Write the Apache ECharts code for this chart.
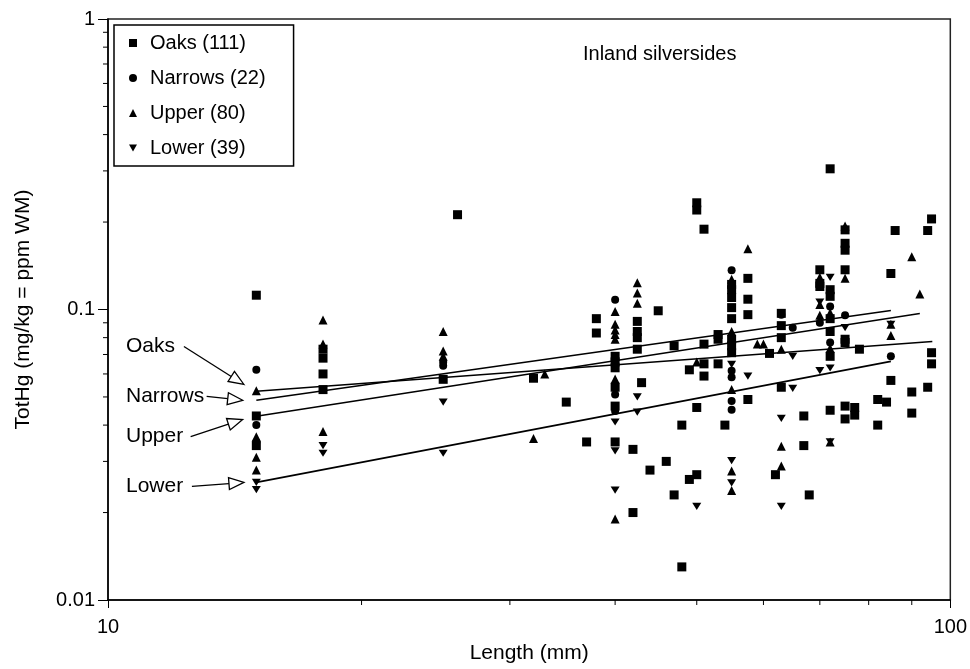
<!DOCTYPE html>
<html>
<head>
<meta charset="utf-8">
<script src="https://cdn.jsdelivr.net/npm/echarts@6/dist/echarts.min.js"></script>
<style>
  html, body { margin: 0; padding: 0; background: #fff; }
  #main { width: 970px; height: 669px; }
</style>
</head>
<body>
<div id="main"></div>
<script>
// length (mm), TotHg (mg/kg)
var oaksData = [
	[15,0.112],[15,0.043],[15,0.034],
	[18,0.073],[18,0.068],[18,0.060],[18,0.053],
	[25,0.0575],[26,0.212],[32,0.058],[35,0.048],[37,0.035],[38,0.093],[38,0.083],
	[40,0.069],[40,0.066],[40,0.063],[40,0.054],[40,0.0465],[40,0.035],
	[42,0.033],[42,0.020],
	[42.5,0.091],[42.5,0.084],[42.5,0.080],[42.5,0.073],
	[43,0.056],[44,0.028],[45,0.099],[46,0.030],[47,0.075],[47,0.023],
	[48,0.040],[48,0.013],[49,0.062],[49,0.026],
	[50,0.233],[50,0.220],[50,0.046],[50,0.027],
	[51,0.189],[51,0.076],[51,0.065],[51,0.059],
	[53,0.082],[53,0.079],[53,0.065],[54,0.040],
	[55,0.122],[55,0.117],[55,0.110],[55,0.1015],[55,0.093],[55,0.079],[55,0.075],[55,0.071],
	[57.5,0.128],[57.5,0.1085],[57.5,0.096],[57.5,0.049],
	[61,0.0706],[62,0.027],
	[63,0.097],[63,0.088],[63,0.080],[63,0.054],
	[67,0.043],[67,0.034],[68,0.023],
	[70,0.137],[70,0.123],[70,0.12],
	[72,0.305],[72,0.117],[72,0.111],[72,0.093],[72,0.084],[72,0.069],[72,0.045],
	[75,0.188],[75,0.169],[75,0.16],[75,0.137],[75,0.079],[75,0.077],[75,0.0465],[75,0.042],
	[77,0.046],[77,0.0433],[78,0.073],
	[82,0.049],[82,0.040],[84,0.048],
	[85,0.133],[85,0.057],[86,0.187],
	[90,0.052],[90,0.044],
	[94,0.187],[94,0.054],
	[95,0.205],[95,0.071],[95,0.065]
];
var narrowsData = [
	[15,0.062],[15,0.040],[15,0.035],[25,0.066],[25,0.064],
	[40,0.108],[40,0.051],[40,0.0447],
	[55,0.1365],[55,0.0616],[55,0.0584],[55,0.0484],[55,0.0452],
	[63,0.096],[65,0.0865],[70,0.12],[70,0.09],[72,0.1025],[72,0.077],[75,0.0955],[85,0.069]
];
var upperData = [
	[15,0.0525],[15,0.0365],[15,0.031],[15,0.028],
	[18,0.092],[18,0.076],[18,0.038],
	[25,0.084],[25,0.072],[25,0.069],
	[32,0.036],[33,0.060],
	[40,0.0985],[40,0.089],[40,0.085],[40,0.082],[40,0.079],[40,0.0576],[40,0.019],
	[42.5,0.1235],[42.5,0.114],[42.5,0.105],
	[50,0.066],
	[55,0.127],[55,0.084],[55,0.053],[55,0.0278],[55,0.0238],
	[57.5,0.162],[59,0.076],[60,0.076],
	[63,0.073],[63,0.0338],[63,0.0289],
	[70,0.129],[70,0.0956],[70,0.104],
	[72,0.0975],[72,0.0735],[72,0.035],
	[75,0.194],[75,0.128],
	[85,0.0813],[85,0.0889],
	[90,0.152],[92,0.113]
];
var lowerData = [
	[15,0.0254],[15,0.024],[18,0.034],[18,0.032],[25,0.048],[25,0.032],
	[40,0.041],[40,0.0326],[40,0.0239],
	[42.5,0.050],[42.5,0.0443],
	[50,0.021],
	[55,0.0647],[55,0.0302],[55,0.0253],
	[57.5,0.059],
	[63,0.0422],[63,0.021],
	[65,0.069],[65,0.0535],
	[70,0.0616],[70,0.106],
	[72,0.129],[72,0.0629],[72,0.035],
	[75,0.0866],[85,0.0889]
];

// regression lines (end points)
var oaksFit = [[15,0.0523],[95.2,0.0776]];
var narrowsFit = [[15,0.0487],[85,0.0992]];
var upperFit = [[15,0.0429],[92,0.0969]];
var lowerFit = [[15,0.0254],[85,0.0663]];

var seriesNames = ['Oaks (111)','Narrows (22)','Upper (80)','Lower (39)'];
var fitLabels = ['Oaks','Narrows','Upper','Lower'];
// where each label arrow points (length, TotHg)
var arrowTips = [[14.5,0.0552],[14.45,0.0487],[14.45,0.0418],[14.5,0.0254]];

var yMinor = [0.02,0.03,0.04,0.05,0.06,0.07,0.08,0.09,0.2,0.3,0.4,0.5,0.6,0.7,0.8,0.9];
var xMinor = [20,30,40,50,60,70,80,90];

var FONT = '"Liberation Sans", Arial, Helvetica, sans-serif';
var DOWN_TRI = 'path://M0,0L10,0L5,9Z';

function scatter(name, data, symbol, size) {
	return {
		name: name,
		type: 'scatter',
		data: data,
		symbol: symbol,
		symbolSize: size,
		symbolKeepAspect: true,
		itemStyle: { color: '#000', opacity: 1 },
		z: 3
	};
}

function fitLine(name, data) {
	return {
		name: name,
		type: 'line',
		data: data,
		showSymbol: false,
		symbol: 'none',
		lineStyle: { color: '#000', width: 1.6 },
		silent: true,
		z: 4
	};
}

var myChart = echarts.init(document.getElementById('main'));

var option = {
	animation: false,
	backgroundColor: '#fff',
	textStyle: { fontFamily: FONT, color: '#000' },
	title: {
		text: 'Inland silversides',
		left: 583,
		top: 44,
		padding: 0,
		textStyle: { fontSize: 20, fontWeight: 'normal', color: '#000', fontFamily: FONT }
	},
	legend: {
		orient: 'vertical',
		left: 114,
		top: 25,
		padding: [8, 28, 8, 15],
		itemGap: 15,
		itemWidth: 8,
		itemHeight: 8,
		symbolKeepAspect: true,
		borderColor: '#000',
		borderWidth: 1.5,
		borderRadius: 0,
		textStyle: { fontSize: 20, color: '#000', fontFamily: FONT, lineHeight: 20, padding: [0, 0, 0, 8] },
		data: seriesNames
	},
	grid: {
		left: 108, right: 17, top: 19, bottom: 68,
		show: true,
		borderColor: '#222',
		borderWidth: 1.5,
		backgroundColor: 'transparent'
	},
	xAxis: {
		type: 'log',
		logBase: 10,
		min: 10,
		max: 100,
		name: 'Length (mm)',
		nameLocation: 'middle',
		nameGap: 43,
		nameTextStyle: { fontSize: 21, color: '#000', fontFamily: FONT },
		axisLine: { lineStyle: { color: '#000', width: 1.5 } },
		axisTick: { length: 8, lineStyle: { color: '#000', width: 1 } },
		axisLabel: { fontSize: 20, color: '#000', margin: 17, fontFamily: FONT },
		splitLine: { show: false },
		minorTick: { show: false }
	},
	yAxis: {
		type: 'log',
		logBase: 10,
		min: 0.01,
		max: 1,
		name: 'TotHg (mg/kg = ppm WM)',
		nameLocation: 'middle',
		nameGap: 74,
		nameTextStyle: { fontSize: 21, color: '#000', fontFamily: FONT },
		axisLine: { lineStyle: { color: '#000', width: 1.5 } },
		axisTick: { length: 10, lineStyle: { color: '#000', width: 1 } },
		axisLabel: {
			fontSize: 20, color: '#000', margin: 13, fontFamily: FONT,
			formatter: function (v) { return String(+v.toPrecision(3)); }
		},
		splitLine: { show: false },
		minorTick: { show: false }
	},
	series: [
		scatter(seriesNames[0], oaksData, 'rect', 9),
		scatter(seriesNames[1], narrowsData, 'circle', 8),
		scatter(seriesNames[2], upperData, 'triangle', 9),
		scatter(seriesNames[3], lowerData, DOWN_TRI, [9, 8]),
		fitLine('Oaks fit', oaksFit),
		fitLine('Narrows fit', narrowsFit),
		fitLine('Upper fit', upperFit),
		fitLine('Lower fit', lowerFit)
	]
};

myChart.setOption(option);

// minor ticks at 2..9 of each decade, placed with the axis scales
function minorTicks() {
	var els = [];
	for (var i = 0; i < yMinor.length; i++) {
		var p = myChart.convertToPixel({ gridIndex: 0 }, [10, yMinor[i]]);
		els.push({ type: 'line', silent: true,
			shape: { x1: p[0] - 5, y1: p[1], x2: p[0], y2: p[1] },
			style: { stroke: '#000', lineWidth: 1 } });
	}
	for (var j = 0; j < xMinor.length; j++) {
		var q = myChart.convertToPixel({ gridIndex: 0 }, [xMinor[j], 0.01]);
		els.push({ type: 'line', silent: true,
			shape: { x1: q[0], y1: q[1], x2: q[0], y2: q[1] + 5 },
			style: { stroke: '#000', lineWidth: 1 } });
	}
	return els;
}

// label + hollow arrow for each regression line
var tails = [[-60, -38], [-36, -4], [-52, 17], [-52, 4]];
function arrows() {
	var els = [];
	for (var i = 0; i < fitLabels.length; i++) {
		var t = myChart.convertToPixel({ gridIndex: 0 }, arrowTips[i]);
		var s = [t[0] + tails[i][0], t[1] + tails[i][1]];
		var dx = t[0] - s[0], dy = t[1] - s[1];
		var len = Math.sqrt(dx * dx + dy * dy);
		dx /= len; dy /= len;
		var b = [t[0] - 15 * dx, t[1] - 15 * dy];
		var nx = -dy, ny = dx;
		els.push({ type: 'line', silent: true,
			shape: { x1: s[0], y1: s[1], x2: b[0], y2: b[1] },
			style: { stroke: '#000', lineWidth: 1.3 } });
		els.push({ type: 'polygon', silent: true,
			shape: { points: [[t[0], t[1]], [b[0] + 6 * nx, b[1] + 6 * ny], [b[0] - 6 * nx, b[1] - 6 * ny]] },
			style: { fill: '#fff', stroke: '#000', lineWidth: 1.3 } });
		els.push({ type: 'text', silent: true,
			x: 126, y: s[1],
			style: { text: fitLabels[i], font: '21px ' + FONT, fill: '#000',
				textAlign: 'left', textVerticalAlign: 'middle' } });
	}
	return els;
}

myChart.setOption({ graphic: minorTicks().concat(arrows()) });
</script>
</body>
</html>
